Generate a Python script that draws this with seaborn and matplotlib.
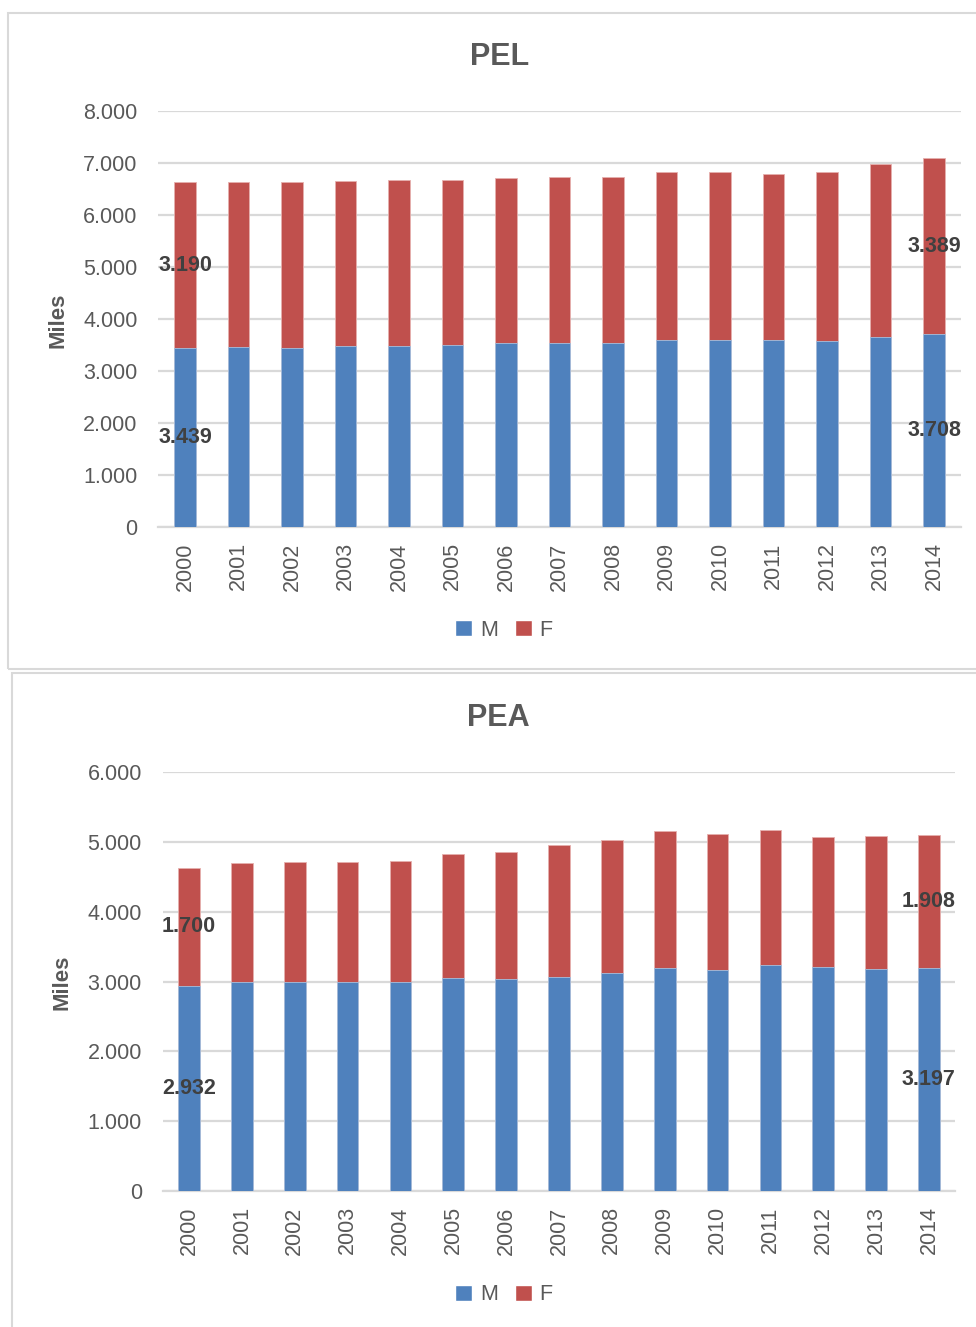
import matplotlib
matplotlib.use("Agg")
import matplotlib.pyplot as plt
from matplotlib.patches import Rectangle, Patch
from matplotlib.ticker import FuncFormatter, MultipleLocator
import seaborn as sns
import pandas as pd

years = [str(y) for y in range(2000, 2015)]

pel_m = [3439, 3457, 3440, 3482, 3490, 3507, 3541, 3541, 3541, 3599, 3599, 3591, 3574, 3649, 3708]
pel_f = [3190, 3182, 3199, 3174, 3174, 3174, 3173, 3181, 3181, 3232, 3224, 3206, 3249, 3324, 3389]

pea_m = [2932, 2994, 2994, 2988, 2994, 3049, 3030, 3067, 3116, 3189, 3158, 3231, 3207, 3177, 3197]
pea_f = [1700, 1704, 1716, 1722, 1734, 1771, 1820, 1886, 1910, 1971, 1954, 1941, 1868, 1904, 1908]

titles = ["PEL", "PEA"]
series_names = ["M", "F"]
y_label = "Miles"

sns.set_theme(style="white")
plt.rcParams['font.family'] = ['Liberation Sans', 'DejaVu Sans']

BLUE = "#4F81BD"
RED = "#C0504D"
GRID = "#D9D9D9"
TXT = "#595959"
LBL = "#404040"

W, H = 976, 1327
fig = plt.figure(figsize=(W / 100, H / 100), dpi=100)

def fx(px):
    return px / W

def fy(py):
    return 1 - py / H

# panel borders
fig.patches.append(Rectangle((fx(8), fy(669)), fx(990) - fx(8), fy(13) - fy(669),
                             transform=fig.transFigure, fill=False, edgecolor=GRID, lw=1.5))
fig.patches.append(Rectangle((fx(12), fy(1340)), fx(990) - fx(12), fy(673) - fy(1340),
                             transform=fig.transFigure, fill=False, edgecolor=GRID, lw=1.5))

fmt = FuncFormatter(lambda v, p: f"{v:,.0f}".replace(",", "."))

def draw(ax, m, f, ymax, step):
    df = pd.DataFrame({"year": years, "M": m, "F": f})
    df["T"] = df["M"] + df["F"]
    sns.barplot(data=df, x="year", y="T", color=RED, saturation=1, width=0.41,
                ax=ax, order=years, edgecolor="#E6B0AE", linewidth=0.6, zorder=3)
    sns.barplot(data=df, x="year", y="M", color=BLUE, saturation=1, width=0.41,
                ax=ax, order=years, edgecolor="#A7C0DE", linewidth=0.6, zorder=3)
    ax.set_xlim(-0.5, len(years) - 0.5)
    ax.set_ylim(0, ymax)
    ax.yaxis.set_major_locator(MultipleLocator(step))
    ax.yaxis.set_major_formatter(fmt)
    ax.grid(axis="y", color=GRID, lw=1.6, zorder=0)
    ax.set_axisbelow(True)
    for s in ["top", "right", "left"]:
        ax.spines[s].set_visible(False)
    ax.spines["bottom"].set_color(GRID)
    ax.spines["bottom"].set_linewidth(1.6)
    ax.tick_params(axis="both", length=0, labelsize=15.5, labelcolor=TXT)
    ax.tick_params(axis="x", rotation=90, pad=11)
    ax.tick_params(axis="y", pad=15)
    ax.set_xlabel("")
    ax.set_ylabel("")
    for i in (0, len(years) - 1):
        ax.text(i, m[i] / 2, fmt(m[i]), ha="center", va="center",
                fontsize=15.5, fontweight="bold", color=LBL, zorder=5)
        ax.text(i, m[i] + f[i] / 2, fmt(f[i]), ha="center", va="center",
                fontsize=15.5, fontweight="bold", color=LBL, zorder=5)

# top panel
ax1 = fig.add_axes([fx(158.25), fy(527), fx(960.75) - fx(158.25), fy(111) - fy(527)])
draw(ax1, pel_m, pel_f, 8000, 1000)
# bottom panel
ax2 = fig.add_axes([fx(162.6), fy(1191), fx(955.4) - fx(162.6), fy(772) - fy(1191)])
draw(ax2, pea_m, pea_f, 6000, 1000)

fig.text(fx(500), fy(57), titles[0], ha="center", va="center", fontsize=22,
         fontweight="bold", color=TXT)
fig.text(fx(498), fy(718), titles[1], ha="center", va="center", fontsize=22,
         fontweight="bold", color=TXT)
fig.text(fx(58), fy(320), y_label, ha="center", va="center", rotation=90,
         fontsize=16, fontweight="bold", color=TXT)
fig.text(fx(62), fy(982), y_label, ha="center", va="center", rotation=90,
         fontsize=16, fontweight="bold", color=TXT)

handles = [Patch(facecolor=BLUE), Patch(facecolor=RED)]
for cy in (630, 1295):
    fig.legend(handles, series_names, loc="center", bbox_to_anchor=(fx(504), fy(cy)),
               ncol=2, frameon=False, fontsize=15.5, labelcolor=TXT,
               handlelength=0.8, handleheight=0.8, handletextpad=0.35,
               columnspacing=0.8)

fig.savefig("out.png", dpi=100)
